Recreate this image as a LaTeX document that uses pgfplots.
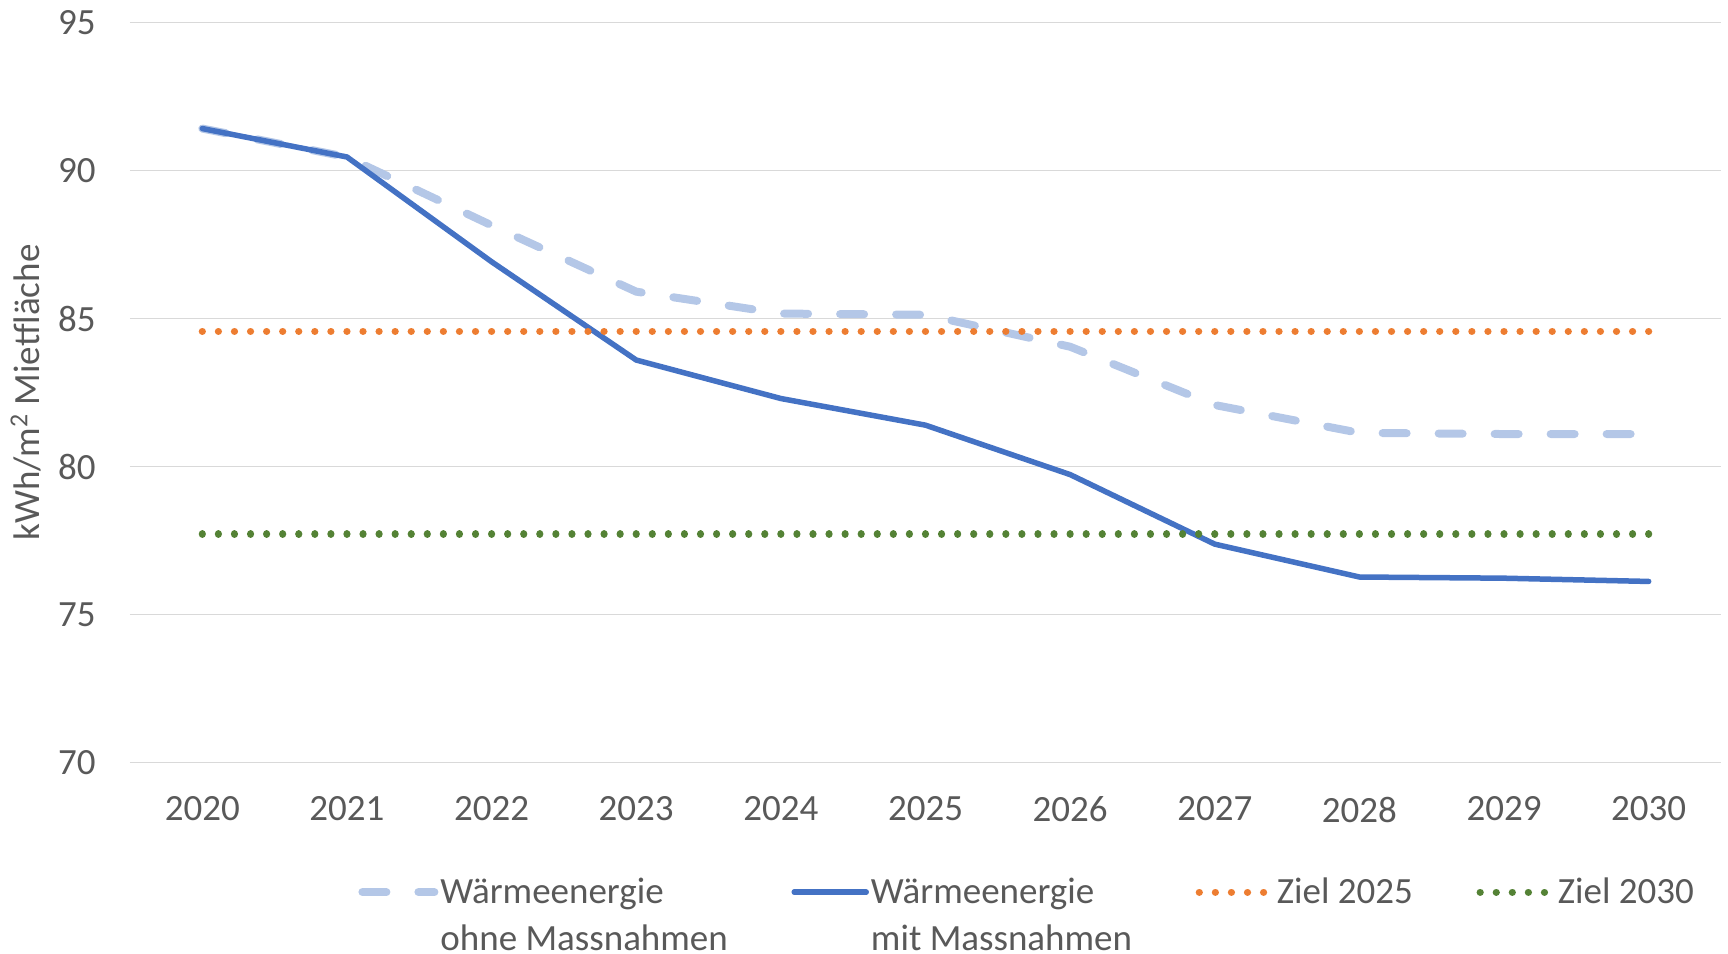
\documentclass[border=0pt]{standalone}
\usepackage{pgfplots}
\pgfplotsset{compat=1.18}
\usepackage{fontspec}
\setmainfont{Carlito}
\definecolor{cSolid}{HTML}{4472C4}
\definecolor{cDash}{HTML}{B4C7E7}
\definecolor{cOrange}{HTML}{ED7D31}
\definecolor{cGreen}{HTML}{548235}
\definecolor{cText}{HTML}{595959}
\definecolor{cGrid}{HTML}{D9D9D9}
\begin{document}
\begin{tikzpicture}
\path[use as bounding box] (-65pt,-95.2pt) rectangle (799pt,381.3pt);
\begin{axis}[
  scale only axis, width=795.5pt, height=370pt,
  at={(0pt,0pt)}, anchor=origin,
  xmin=2019.5, xmax=2030.5, ymin=70, ymax=95,
  xtick={2020,2021,...,2030}, ytick={70,75,...,95},
  font=\fontsize{18.5}{23.5}\selectfont,
  /pgf/number format/assume math mode=true,
  xticklabel style={/pgf/number format/1000 sep={}, yshift=-13.6pt},
  yticklabel style={xshift=-13.6pt},
  tick label style={color=cText},
  major tick length=0pt,
  axis line style={draw=none},
  ymajorgrids, grid style={color=cGrid, line width=0.75pt},
  ylabel={kWh/m\textsuperscript{2} Mietfläche},
  ylabel style={at={(axis description cs:0,0.5)}, anchor=center, yshift=52pt, color=cText},
  legend columns=4,
  legend style={draw=none, fill=none, inner sep=0pt, at={(axis description cs:0,0)}, anchor=north west, xshift=114pt, yshift=-57.4pt,
    font=\fontsize{18.5}{23.5}\selectfont, text=cText,
    nodes={align=left, inner xsep=1pt, inner ysep=0pt},
    /tikz/every even column/.append style={column sep=30.8pt}},
  legend image code/.code={\draw[#1] (0pt,11.75pt) -- (36pt,11.75pt);},
  legend cell align=left,
]
\addplot[color=cDash, line width=4pt, line cap=round, line join=round, dash pattern=on 12pt off 16pt] coordinates {
(2020,91.42) (2021,90.46) (2022,88.15) (2023,85.91) (2024,85.17) (2025,85.13) (2026,84.05) (2027,82.08) (2028,81.14) (2029,81.1) (2030,81.1)};
\addlegendentry{Wärmeenergie\\ohne Massnahmen}
\addplot[color=cSolid, line width=2.75pt, line cap=round, line join=round] coordinates {
(2020,91.42) (2021,90.46) (2022,86.92) (2023,83.6) (2024,82.3) (2025,81.4) (2026,79.73) (2027,77.38) (2028,76.27) (2029,76.23) (2030,76.12)};
\addlegendentry{Wärmeenergie\\mit Massnahmen}
\addplot[color=cOrange, line width=3.6pt, line cap=round, dash pattern=on 0.01pt off 8.025pt] coordinates {(2020,84.57) (2030,84.57)};
\addlegendentry{Ziel 2025\\\strut}
\addplot[color=cGreen, line width=3.6pt, line cap=round, dash pattern=on 0.01pt off 8.025pt] coordinates {(2020,77.72) (2030,77.72)};
\addlegendentry{Ziel 2030\\\strut}
\end{axis}
\end{tikzpicture}
\end{document}
